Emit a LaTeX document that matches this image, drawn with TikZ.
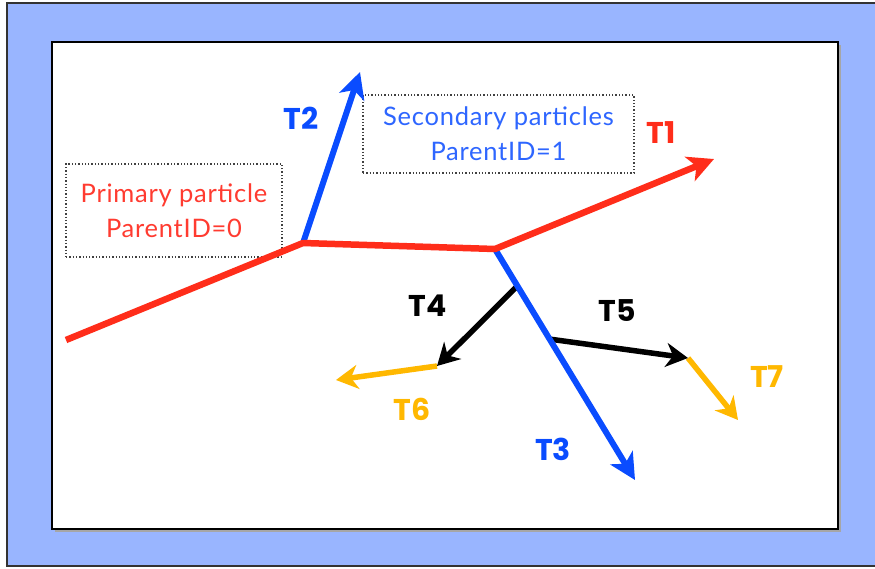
\documentclass[tikz,border=0pt]{standalone}
\usepackage{fontspec}
\setmainfont{Lato}
\newfontfamily\tfont{Poppins}
\usetikzlibrary{arrows.meta,calc}
\definecolor{frameblue}{HTML}{99B5FF}
\definecolor{trkred}{HTML}{FF2D1A}
\definecolor{trkblue}{HTML}{0A4CFF}
\definecolor{trkorange}{HTML}{FFB800}
\definecolor{txtred}{HTML}{FF3B30}
\definecolor{txtblue}{HTML}{2E66FF}
\begin{document}
\begin{tikzpicture}[x=1pt,y=-1pt,
  trk/.style={line width=6.5pt,line join=round,line cap=butt},
  head/.style={-{Stealth[length=26pt,width=26pt,inset=7pt]}},
  smallhead/.style={-{Stealth[length=22pt,width=24pt,inset=7pt]}},
  infobox/.style={draw=black!75,dotted,line width=1.3pt,align=center,
    font=\fontsize{25.5}{35}\selectfont\addfontfeatures{LetterSpace=3},inner sep=0pt},
  tlabel/.style={font=\tfont\fontsize{30}{34}\selectfont\bfseries,inner sep=0pt}]
\useasboundingbox (0,0) rectangle (875,568);
\clip (0,0) rectangle (875,568);
% frames
\draw[fill=frameblue,draw=black!80,line width=1.5pt] (7,3) rectangle (890,566);
\fill[black!35] (55,45) rectangle (841,532);
\draw[fill=white,draw=black,line width=2pt] (52,42) rectangle (838,529);
% coordinates
\coordinate (A) at (66,340);
\coordinate (B) at (303,243);
\coordinate (C) at (495,249);
\coordinate (D) at (714,159);
\coordinate (E) at (360,72);
\coordinate (F) at (635,480);
\coordinate (G) at ($(C)!0.16!(F)$);
\coordinate (H) at ($(C)!0.39!(F)$);
\coordinate (K) at (437,366);
\coordinate (L) at (336,380);
\coordinate (M) at (688,358);
\coordinate (N) at (738,420);
% info boxes
\node[infobox,text=txtred,minimum width=216pt,minimum height=93pt] (pbox) at (174,210.5)
  {Primary particle\\ParentID=0};
\node[infobox,text=txtblue,minimum width=271pt,minimum height=78pt] (sbox) at (498.5,134)
  {Secondary particles\\ParentID=1};
% tracks
\draw[trk,trkorange,line width=5.5pt,smallhead] (K) -- (L);
\draw[trk,trkorange,line width=5.5pt,smallhead] (M) -- (N);
\draw[trk,black,line width=5.5pt,smallhead] (G) -- (K);
\draw[trk,black,line width=5.5pt,smallhead] (H) -- (M);
\draw[trk,trkblue,line width=6pt,head] (B) -- (E);
\draw[trk,trkblue,line width=6pt,head] (C) -- (F);
\draw[trk,trkred,head] (A) -- (B) -- (C) -- (D);
% labels
\node[tlabel,text=trkblue] (t2) at (301,118) {T2};
\node[tlabel,text=trkred] (t1) at (661,133) {T1};
\node[tlabel,text=trkblue] (t3) at (553,449) {T3};
\node[tlabel,text=black] (t4) at (428,306) {T4};
\node[tlabel,text=black] (t5) at (617,311) {T5};
\node[tlabel,text=trkorange] (t6) at (412,409) {T6};
\node[tlabel,text=trkorange] (t7) at (767,377) {T7};
\end{tikzpicture}
\end{document}
